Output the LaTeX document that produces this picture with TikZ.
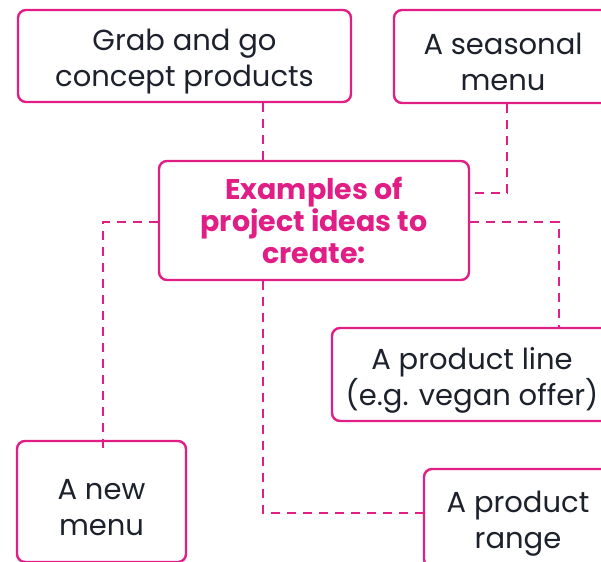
\documentclass[tikz,border=0pt]{standalone}
\usepackage{fontspec}
\setmainfont{Poppins}
\definecolor{mag}{RGB}{224,30,134}
\definecolor{ink}{RGB}{28,33,43}
\newcommand{\lowr}{\rule{0pt}{33pt}}
\begin{document}
\begin{tikzpicture}[x=1pt,y=-1pt,
  frame/.style={draw=mag,line width=2.4pt,rounded corners=8pt,fill=white,align=center,inner sep=0pt},
  box/.style={frame,text=ink,font=\fontsize{29}{36}\selectfont},
  title/.style={frame,text=mag,font=\fontsize{28.5}{32}\selectfont\bfseries},
  link/.style={draw=mag,line width=2.4pt,dash pattern=on 9pt off 7pt}]
\useasboundingbox (0,0) rectangle (601,561);
\clip (0,0) rectangle (601,561);
\coordinate (xa) at (263,0);
\coordinate (xb) at (507,0);
\coordinate (xc) at (103,0);
\coordinate (xd) at (559,0);
\coordinate (ya) at (0,193);
\coordinate (yb) at (0,222);
\coordinate (yc) at (0,513);
\node[box,minimum width=333pt,minimum height=92pt] (grab) at (184.5,56) {\lowr Grab and go\\concept products};
\node[box,minimum width=218pt,minimum height=93pt] (seasonal) at (503,56.5) {\lowr A seasonal\\menu};
\node[title,minimum width=310pt,minimum height=119pt] (center) at (314,220.5) {Examples of\\project ideas to\\create:};
\node[box,minimum width=280pt,minimum height=93pt] (line) at (472,374.5) {\lowr A product line\\(e.g. vegan offer)};
\node[box,minimum width=188pt,minimum height=98pt] (range) at (518,518) {\lowr A product\\range};
\node[box,minimum width=169pt,minimum height=121pt] (newmenu) at (101.5,501.5) {\lowr A new\\menu};
\draw[link] (grab.south -| xa) -- (center.north -| xa);
\draw[link] (seasonal.south -| xb) -- (xb |- ya) -- (center.east |- ya);
\draw[link] (center.west |- yb) -- (xc |- yb) -- ([yshift=-9pt]newmenu.north -| xc);
\draw[link] (center.east |- yb) -- (xd |- yb) -- (line.north -| xd);
\draw[link] (center.south -| xa) -- (xa |- yc) -- (range.west |- yc);
\end{tikzpicture}
\end{document}
